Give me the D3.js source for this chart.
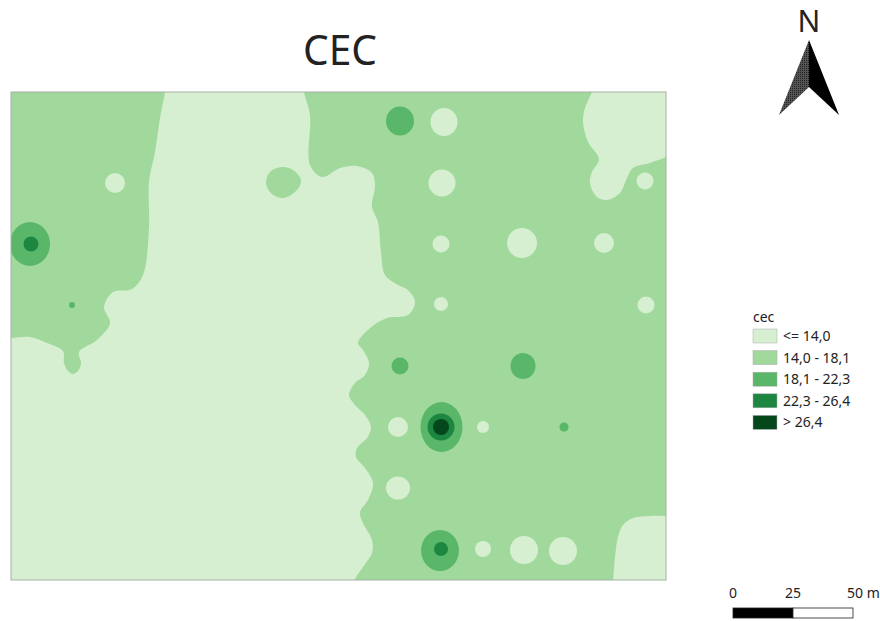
<!DOCTYPE html>
<html>
<head>
<meta charset="utf-8">
<title>CEC</title>
<script src="https://cdn.jsdelivr.net/npm/d3@7"></script>
<style>
  html, body { margin: 0; background: #fff; }
  text { font-family: "Noto Sans", sans-serif; fill: #222; }
</style>
</head>
<body>
<div id="chart"></div>
<script>
const classes = ['<= 14,0', '14,0 - 18,1', '18,1 - 22,3', '22,3 - 26,4', '> 26,4'];
const colors = ['#d6efd0', '#a0d99b', '#5ab769', '#1d8641', '#03471b'];
const scaleTicks = [0, 25, 50];

// map extent, in map units
const mapWidth = 655;
const mapHeight = 488;

// zones: [x, y] in map units, y down from the top edge
const lowCentre = [[155,-12],[154,0],[149,26],[144,60],[138,90],[138,136],[132,183],[121,197],[102,200],[93,215],[99,231],[86,248],[68,260],[70,271],[67,279],[62,282],[57,279],[53,271],[52,259],[36,251],[19,245],[0,246],[-12,246],[-12,500],[340,500],[344,487],[352,475],[361,461],[361,448],[352,431],[349,420],[357,408],[362,391],[354,376],[345,365],[346,356],[356,346],[360,335],[354,323],[344,313],[338,303],[344,291],[354,283],[358,271],[352,258],[347,251],[359,236],[376,226],[397,223],[404,210],[397,198],[387,193],[374,183],[370,160],[367,130],[361,115],[364,93],[361,81],[346,74],[329,76],[311,85],[299,73],[299,23],[293,0],[292,-12]];
const lowNorthEast = [[585,-12],[581,0],[574,16],[572,30],[577,50],[588,67],[581,80],[579,91],[586,105],[596,108],[609,101],[616,86],[622,76],[639,71],[656,65],[680,56],[680,-12]];
const lowSouthEast = [[600,500],[602,488],[604,465],[607,445],[612,433],[622,426],[639,424],[656,424],[680,424],[680,500]];
const midIsland = [[255,91],[259,80],[271,75],[282,78],[290,88],[286,98],[272,106],[261,102]];

// sample spots: [x, y, rx, ry] in map units
const lowSpots = [[433,30,13.5,14],[431,91,13.5,13.5],[430,152,8.5,8.5],[511,151,15,15],[593,151,10,10],[430,212,7,7],[635,213,8.5,8.5],[634,89,8.5,8.5],[104,91,10,10],[387,335,10,10],[472,335,6,6],[387,396,12,11.5],[472,457,8,8],[513,458,14,14],[552,459,14,14]];
const mid2Spots = [[389,29,14,14.5],[19,152,20,22],[61,213,3,3],[389,274,8.5,8.5],[512,274,12.5,13],[553,335,4.5,4.5],[430.5,335,21,25],[429,458.5,19,20.5]];
const highSpots = [[20,152,7.5,7.5],[430,335,13.5,13.5],[430,457,7,7]];
const peakSpots = [[430,335,8,8]];

const arrowLeft = [[809,40],[779,115],[809,87]];
const arrowRight = [[809,40],[839,115],[809,87]];

const chart = () => {
  const svg = d3.select('#chart')
    .append('svg')
    .attr('width', 880)
    .attr('height', 621)
    .style('display', 'block');

  const x = d3.scaleLinear().domain([0, mapWidth]).range([11, 666]);
  const y = d3.scaleLinear().domain([0, mapHeight]).range([92, 580]);
  const color = d3.scaleOrdinal().domain(d3.range(5)).range(colors);

  svg.append('text')
    .attr('x', 340)
    .attr('y', 65)
    .attr('text-anchor', 'middle')
    .attr('textLength', 74)
    .attr('lengthAdjust', 'spacingAndGlyphs')
    .style('font-size', '42px')
    .text('CEC');

  const defs = svg.append('defs');
  defs.append('clipPath')
    .attr('id', 'map-clip')
    .append('rect')
    .attr('x', x(0))
    .attr('y', y(0))
    .attr('width', x(mapWidth) - x(0))
    .attr('height', y(mapHeight) - y(0));
  const hatch = defs.append('pattern')
    .attr('id', 'hatch')
    .attr('patternUnits', 'userSpaceOnUse')
    .attr('width', 2)
    .attr('height', 2);
  hatch.append('rect').attr('width', 2).attr('height', 2).attr('fill', '#555');
  hatch.append('rect').attr('width', 1).attr('height', 1).attr('fill', '#222');

  const map = svg.append('g').attr('clip-path', 'url(#map-clip)');
  map.append('rect')
    .attr('x', x(0))
    .attr('y', y(0))
    .attr('width', x(mapWidth) - x(0))
    .attr('height', y(mapHeight) - y(0))
    .attr('fill', color(1));

  const zone = d3.line()
    .x(d => x(d[0]))
    .y(d => y(d[1]))
    .curve(d3.curveCatmullRomClosed.alpha(0.5));

  map.selectAll('path.zone')
    .data([
      { ring: lowCentre, k: 0 },
      { ring: lowNorthEast, k: 0 },
      { ring: lowSouthEast, k: 0 },
      { ring: midIsland, k: 1 }
    ])
    .join('path')
    .attr('class', 'zone')
    .attr('d', d => zone(d.ring))
    .attr('fill', d => color(d.k));

  // low to high so the bullseyes stack up
  [[lowSpots, 0], [mid2Spots, 2], [highSpots, 3], [peakSpots, 4]].forEach(([spots, k]) => {
    map.append('g')
      .selectAll('ellipse')
      .data(spots)
      .join('ellipse')
      .attr('cx', d => x(d[0]))
      .attr('cy', d => y(d[1]))
      .attr('rx', d => x(d[2]) - x(0))
      .attr('ry', d => y(d[3]) - y(0))
      .attr('fill', color(k));
  });

  svg.append('rect')
    .attr('x', x(0))
    .attr('y', y(0))
    .attr('width', x(mapWidth) - x(0))
    .attr('height', y(mapHeight) - y(0))
    .attr('fill', 'none')
    .attr('stroke', '#a8b0a8')
    .attr('stroke-width', 1);

  // north arrow
  svg.append('text')
    .attr('x', 809)
    .attr('y', 32)
    .attr('text-anchor', 'middle')
    .style('font-size', '30px')
    .text('N');
  const arrow = d3.line();
  svg.append('path').attr('d', arrow(arrowLeft) + 'Z').attr('fill', 'url(#hatch)');
  svg.append('path').attr('d', arrow(arrowRight) + 'Z').attr('fill', '#000');

  // legend
  const legend = svg.append('g').attr('transform', 'translate(753,322)');
  legend.append('text')
    .style('font-size', '14px')
    .text('cec');
  const row = d3.scaleBand().domain(d3.range(5)).range([7, 115]);
  const item = legend.selectAll('g')
    .data(classes)
    .join('g')
    .attr('transform', (d, i) => `translate(0,${row(i)})`);
  item.append('rect')
    .attr('width', 24)
    .attr('height', 14)
    .attr('fill', (d, i) => color(i))
    .attr('stroke', '#aaa')
    .attr('stroke-width', 0.5);
  item.append('text')
    .attr('x', 30)
    .attr('y', 12)
    .style('font-size', '14px')
    .text(d => d);

  // scale bar
  const bar = d3.scaleLinear().domain([0, 50]).range([733, 853]);
  svg.selectAll('rect.bar')
    .data(d3.pairs(scaleTicks))
    .join('rect')
    .attr('class', 'bar')
    .attr('x', d => bar(d[0]))
    .attr('y', 608)
    .attr('width', d => bar(d[1]) - bar(d[0]))
    .attr('height', 10)
    .attr('fill', (d, i) => i === 0 ? '#000' : '#fff')
    .attr('stroke', '#222')
    .attr('stroke-width', 0.8);
  svg.selectAll('text.tick')
    .data(scaleTicks)
    .join('text')
    .attr('class', 'tick')
    .attr('x', d => bar(d))
    .attr('y', 598)
    .attr('text-anchor', d => d === 50 ? 'start' : 'middle')
    .attr('dx', d => d === 50 ? -6 : 0)
    .style('font-size', '14px')
    .text(d => d === 50 ? '50 m' : d);
}

chart();
</script>
</body>
</html>
